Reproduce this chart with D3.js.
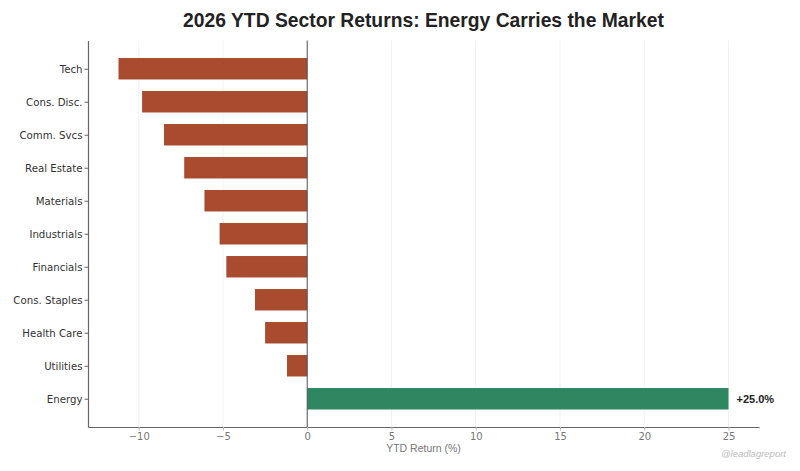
<!DOCTYPE html>
<html>
<head>
<meta charset="utf-8">
<script src="https://cdn.jsdelivr.net/npm/d3@7"></script>
<style>
    body { margin: 0; background: #fff; }
    svg { display: block; }
</style>
</head>
<body>
<svg id="chart" width="800" height="471"></svg>
<script>
const sectors = ['Tech', 'Cons. Disc.', 'Comm. Svcs', 'Real Estate', 'Materials', 'Industrials',
    'Financials', 'Cons. Staples', 'Health Care', 'Utilities', 'Energy'];
const returns = [-11.2, -9.8, -8.5, -7.3, -6.1, -5.2, -4.8, -3.1, -2.5, -1.2, 25.0];
const xTicks = [-10, -5, 0, 5, 10, 15, 20, 25];

const width = 800, height = 471;
const margin = { top: 40.5, right: 41, bottom: 44, left: 88 };
const innerW = width - margin.left - margin.right;
const innerH = height - margin.top - margin.bottom;

const svg = d3.select("#chart");
const g = svg.append("g").attr("transform", `translate(${margin.left},${margin.top})`);

// x domain padded like matplotlib auto margins
const x = d3.scaleLinear().domain([-13.01, 26.81]).range([0, innerW]);
// sector index -> y, first sector on top
const barH = 0.65;
const y = d3.scaleLinear().domain([-0.856, sectors.length - 1 + 0.856]).range([0, innerH]);

// grid
g.append("g")
    .selectAll("line")
    .data(xTicks)
    .enter().append("line")
    .attr("x1", d => x(d)).attr("x2", d => x(d))
    .attr("y1", 0).attr("y2", innerH)
    .attr("stroke", "#eeeeee")
    .attr("stroke-width", 0.8);

// bars
g.append("g")
    .selectAll("rect")
    .data(returns)
    .enter().append("rect")
    .attr("x", d => x(Math.min(0, d)))
    .attr("width", d => Math.abs(x(d) - x(0)))
    .attr("y", (d, i) => y(i - barH / 2))
    .attr("height", y(barH) - y(0))
    .attr("fill", d => d >= 0 ? "#2e8760" : "#a84b2f");

// zero line
g.append("line")
    .attr("x1", x(0)).attr("x2", x(0))
    .attr("y1", 0).attr("y2", innerH)
    .attr("stroke", "#555")
    .attr("stroke-width", 1);

// value label for positive bar
g.append("g")
    .selectAll("text")
    .data(returns.map((v, i) => ({ v, i })).filter(d => d.v > 0))
    .enter().append("text")
    .attr("x", d => x(d.v) + 8)
    .attr("y", d => y(d.i))
    .attr("dy", "0.35em")
    .attr("font-family", "Liberation Sans, Arial, sans-serif")
    .attr("font-size", "11px")
    .attr("font-weight", "bold")
    .attr("fill", "#222")
    .text(d => `+${d.v.toFixed(1)}%`);

// axes
const xAxis = g.append("g")
    .attr("transform", `translate(0,${innerH})`)
    .call(d3.axisBottom(x).tickValues(xTicks).tickSizeInner(3.5).tickSizeOuter(0).tickPadding(2)
        .tickFormat(d => d < 0 ? "\u2212" + Math.abs(d) : d));
xAxis.select(".domain").attr("stroke", "#666").attr("stroke-width", 1.2);
xAxis.selectAll(".tick line").attr("stroke", "#bbb");
xAxis.selectAll(".tick text")
    .attr("font-family", "DejaVu Sans, sans-serif")
    .attr("font-size", "10px")
    .attr("fill", "#777");

const yAxis = g.append("g")
    .call(d3.axisLeft(y).tickValues(d3.range(sectors.length)).tickSizeInner(3.5).tickSizeOuter(0).tickPadding(2)
        .tickFormat(i => sectors[i]));
yAxis.select(".domain").attr("stroke", "#666").attr("stroke-width", 1.2);
yAxis.selectAll(".tick line").attr("stroke", "#666");
yAxis.selectAll(".tick text")
    .attr("font-family", "DejaVu Sans, sans-serif")
    .attr("font-size", "10.2px")
    .attr("fill", "#333");

// x label
g.append("text")
    .attr("x", innerW / 2)
    .attr("y", innerH + 25)
    .attr("text-anchor", "middle")
    .attr("font-family", "Liberation Sans, Arial, sans-serif")
    .attr("font-size", "10.5px")
    .attr("fill", "#777")
    .text("YTD Return (%)");

// title
svg.append("text")
    .attr("x", margin.left + innerW / 2)
    .attr("y", 27)
    .attr("text-anchor", "middle")
    .attr("font-family", "Liberation Sans, Arial, sans-serif")
    .attr("font-size", "19.3px")
    .attr("font-weight", "bold")
    .attr("fill", "#222")
    .text("2026 YTD Sector Returns: Energy Carries the Market");

// watermark
svg.append("text")
    .attr("x", 786)
    .attr("y", 457)
    .attr("text-anchor", "end")
    .attr("font-family", "Liberation Sans, Arial, sans-serif")
    .attr("font-size", "9.5px")
    .attr("font-style", "italic")
    .attr("fill", "#bbb")
    .text("@leadlagreport");
</script>
</body>
</html>
